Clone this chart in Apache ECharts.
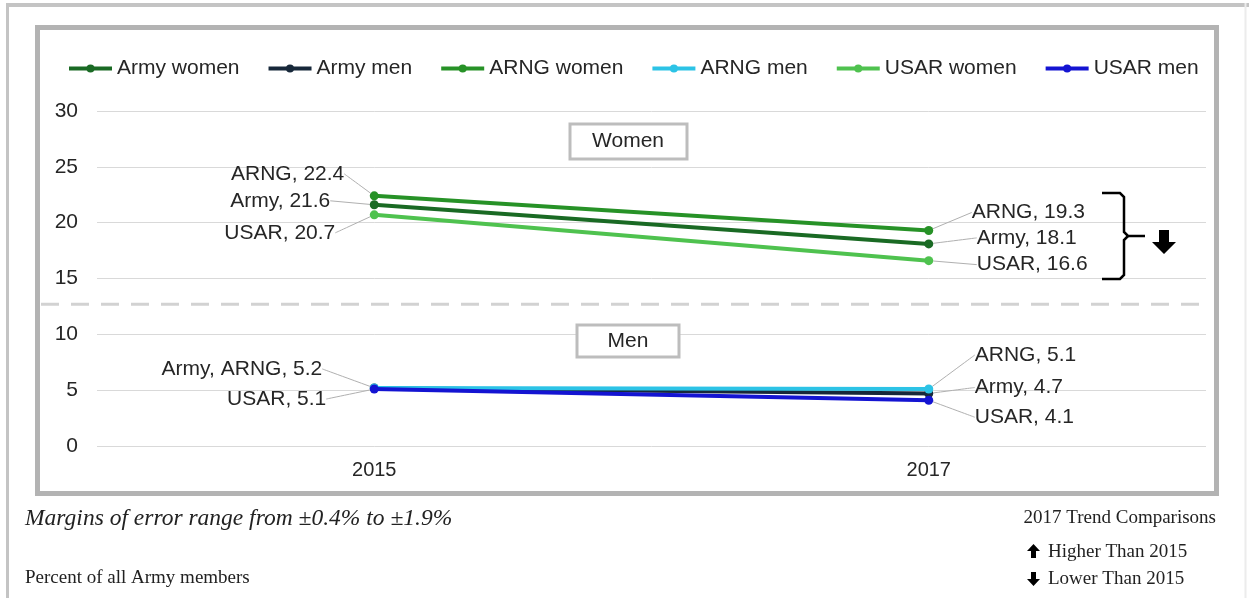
<!DOCTYPE html>
<html>
<head>
<meta charset="utf-8">
<script src="https://cdn.jsdelivr.net/npm/echarts@6/dist/echarts.min.js"></script>
<style>
html,body{margin:0;padding:0;background:#fff;}
#chart{width:1249px;height:598px;}
</style>
</head>
<body>
<div id="chart"></div>
<script>
// ---- data ----
const years = ['2015', '2017'];
const armyWomen = [21.6, 18.1];
const armyMen = [5.2, 4.7];
const arngWomen = [22.4, 19.3];
const arngMen = [5.2, 5.1];
const usarWomen = [20.7, 16.6];
const usarMen = [5.1, 4.1];
const seriesNames = ['Army women', 'Army men', 'ARNG women', 'ARNG men', 'USAR women', 'USAR men'];
const labelTags = [['Army', 'Army'], ['Army, ARNG', 'Army'], ['ARNG', 'ARNG'], [null, 'ARNG'], ['USAR', 'USAR'], ['USAR', 'USAR']];
const yMin = 0, yMax = 30, yInterval = 5;
const separatorValue = 12.7;

// ---- styling ----
const colors = ['#1a6a24', '#17283a', '#279227', '#2cc3e6', '#4fc24f', '#1414d2'];
// label anchor offsets from point: [dx, dy, align]
const labelOffsets = [
  [[-44, -4, 'right'], [48, -6, 'left']],
  [[-52, -19, 'right'], [46, -6, 'left']],
  [[-30, -22, 'right'], [43, -18, 'left']],
  [null, [46, -34, 'left']],
  [[-39, 18, 'right'], [48, 4, 'left']],
  [[-48, 10, 'right'], [46, 17, 'left']]
];
const allData = [armyWomen, armyMen, arngWomen, arngMen, usarWomen, usarMen];

const chart = echarts.init(document.getElementById('chart'), null, {renderer: 'canvas'});
const sf = 'Liberation Sans, Arial, sans-serif';

const series = allData.map((arr, si) => ({
  name: seriesNames[si],
  type: 'line',
  data: arr.map((v, i) => {
    if (labelTags[si][i] === null) {
      return {value: v, label: {show: false}, labelLine: {show: false}};
    }
    return v;
  }),
  color: colors[si],
  symbol: 'circle',
  symbolSize: 9,
  lineStyle: {width: 4, color: colors[si]},
  itemStyle: {color: colors[si]},
  label: {
    show: true,
    fontFamily: sf,
    fontSize: 21,
    color: '#262626',
    formatter: p => labelTags[si][p.dataIndex] + ', ' + p.value
  },
  labelLine: {show: true, smooth: 0.3, lineStyle: {color: '#b0b0b0', width: 1}},
  labelLayout: p => {
    const o = labelOffsets[si][p.dataIndex];
    if (!o) return {};
    return {
      x: p.rect.x + p.rect.width / 2 + o[0],
      y: p.rect.y + p.rect.height / 2 + o[1],
      align: o[2],
      verticalAlign: 'middle'
    };
  },
  z: 3 + si
}));

const txt = (opts) => Object.assign({type: 'text', z: 20}, opts);

const option = {
  animation: false,
  backgroundColor: '#ffffff',
  legend: {
    data: seriesNames,
    left: 67,
    top: 58,
    padding: 0,
    itemWidth: 43,
    itemHeight: 10,
    itemGap: 27,
    lineStyle: {width: 4},
    textStyle: {fontFamily: sf, fontSize: 21, color: '#262626'}
  },
  grid: {left: 97, right: 43, top: 111, bottom: 152, containLabel: false},
  xAxis: {
    type: 'category',
    data: years,
    boundaryGap: true,
    axisLine: {show: false},
    axisTick: {show: false},
    axisLabel: {fontFamily: sf, fontSize: 20, color: '#262626', margin: 14}
  },
  yAxis: {
    type: 'value',
    min: yMin,
    max: yMax,
    interval: yInterval,
    axisLine: {show: false},
    axisTick: {show: false},
    axisLabel: {fontFamily: sf, fontSize: 21, color: '#262626', margin: 19},
    splitLine: {lineStyle: {color: '#d9d9d9', width: 1}}
  },
  series: series,
  graphic: []
};
chart.setOption(option);

// decorations computed after layout
const sepY = chart.convertToPixel({yAxisIndex: 0}, separatorValue);
const tf = 'Liberation Serif, Times New Roman, serif';
const graphics = [
  // outer frame
  {type: 'line', shape: {x1: 6, y1: 5, x2: 1249, y2: 5}, style: {stroke: '#c4c4c4', lineWidth: 4}, z: 1},
  {type: 'line', shape: {x1: 7.5, y1: 3, x2: 7.5, y2: 598}, style: {stroke: '#c4c4c4', lineWidth: 3}, z: 1},
  {type: 'line', shape: {x1: 1245.5, y1: 3, x2: 1245.5, y2: 598}, style: {stroke: '#ececec', lineWidth: 2}, z: 1},
  // inner box
  {type: 'rect', shape: {x: 37.5, y: 27.5, width: 1179, height: 466}, style: {fill: 'none', stroke: '#b3b3b3', lineWidth: 5}, z: 1},
  // dashed separator
  {type: 'line', shape: {x1: 41, y1: sepY, x2: 1204, y2: sepY}, style: {stroke: '#d2d2d2', lineWidth: 3, lineDash: [18, 12]}, z: 1},
  // Women / Men boxes
  {type: 'rect', shape: {x: 570, y: 124, width: 117, height: 35}, style: {fill: '#fff', stroke: '#bdbdbd', lineWidth: 3}, z: 10},
  txt({style: {text: 'Women', x: 628, y: 141, align: 'center', verticalAlign: 'middle', fontFamily: sf, fontSize: 21, fill: '#262626'}}),
  {type: 'rect', shape: {x: 577, y: 325, width: 102, height: 32}, style: {fill: '#fff', stroke: '#bdbdbd', lineWidth: 3}, z: 10},
  txt({style: {text: 'Men', x: 628, y: 341, align: 'center', verticalAlign: 'middle', fontFamily: sf, fontSize: 21, fill: '#262626'}}),
  // bracket
  {type: 'polyline', shape: {points: [[1102, 193], [1120, 193], [1124, 197], [1124, 232], [1128, 236], [1145, 236]]}, style: {stroke: '#000', lineWidth: 2.5, fill: 'none'}, z: 10},
  {type: 'polyline', shape: {points: [[1102, 279], [1120, 279], [1124, 275], [1124, 240], [1128, 236]]}, style: {stroke: '#000', lineWidth: 2.5, fill: 'none'}, z: 10},
  // big down arrow
  {type: 'polygon', shape: {points: [[1159, 230], [1169, 230], [1169, 242], [1176, 242], [1164, 254], [1152, 242], [1159, 242]]}, style: {fill: '#000'}, z: 10},
  // footer texts
  txt({style: {text: 'Margins of error range from \u00b10.4% to \u00b11.9%', x: 25, y: 519, verticalAlign: 'middle', fontFamily: tf, fontStyle: 'italic', fontSize: 23.5, fill: '#222'}}),
  txt({style: {text: 'Percent of all Army members', x: 25, y: 578, verticalAlign: 'middle', fontFamily: tf, fontSize: 19, fill: '#222'}}),
  txt({style: {text: '2017 Trend Comparisons', x: 1216, y: 518, align: 'right', verticalAlign: 'middle', fontFamily: tf, fontSize: 19, fill: '#222'}}),
  txt({style: {text: 'Higher Than 2015', x: 1048, y: 552, verticalAlign: 'middle', fontFamily: tf, fontSize: 19, fill: '#222'}}),
  txt({style: {text: 'Lower Than 2015', x: 1048, y: 579, verticalAlign: 'middle', fontFamily: tf, fontSize: 19, fill: '#222'}}),
  // small arrows
  {type: 'polygon', shape: {points: [[1033.5, 544], [1040, 551], [1036, 551], [1036, 558], [1031, 558], [1031, 551], [1027, 551]]}, style: {fill: '#000'}, z: 10},
  {type: 'polygon', shape: {points: [[1031, 572], [1036, 572], [1036, 579], [1040, 579], [1033.5, 586], [1027, 579], [1031, 579]]}, style: {fill: '#000'}, z: 10}
];
chart.setOption({graphic: graphics});
</script>
</body>
</html>
